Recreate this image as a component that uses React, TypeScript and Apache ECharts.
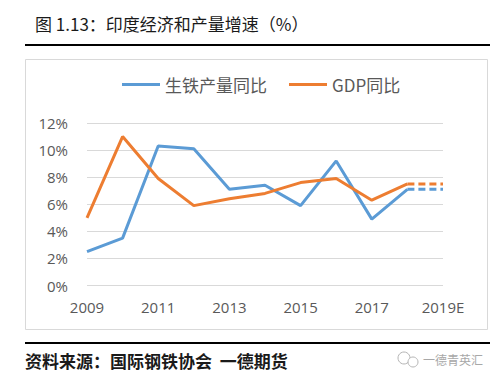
import React, { useEffect, useRef } from "react";
import * as echarts from "echarts";

const years = ["2009", "2010", "2011", "2012", "2013", "2014", "2015", "2016", "2017", "2018", "2019E"];
const pigIron = [2.5, 3.5, 10.3, 10.1, 7.1, 7.4, 5.9, 9.2, 4.9, 7.1, null];
const gdp = [5.0, 11.0, 7.9, 5.9, 6.4, 6.8, 7.6, 7.9, 6.3, 7.5, null];
const pigIronForecast = [null, null, null, null, null, null, null, null, null, 7.1, 7.1];
const gdpForecast = [null, null, null, null, null, null, null, null, null, 7.5, 7.5];
const seriesNames = ["生铁产量同比", "GDP同比"];

const BLUE = "#5B9BD5";
const ORANGE = "#ED7D31";
const CJK = "'Noto Sans CJK SC', sans-serif";
const LAT = "'Open Sans', 'Noto Sans CJK SC', sans-serif";

export default function App() {
  const ref = useRef<HTMLDivElement>(null);
  useEffect(() => {
    document.body.style.margin = "0";
    const chart = echarts.init(ref.current!, null, { renderer: "svg" });
    chart.setOption({
      animation: false,
      backgroundColor: "#ffffff",
      grid: { left: 87, right: 56, top: 123, bottom: 96.5, containLabel: false },
      legend: {
        data: seriesNames,
        left: 117,
        top: 71,
        icon: "rect",
        itemWidth: 38,
        itemHeight: 3,
        itemGap: 22,
        textStyle: { fontSize: 17, color: "#595959", fontFamily: CJK },
      },
      xAxis: {
        type: "category",
        data: years,
        boundaryGap: false,
        axisLine: { show: false },
        axisTick: { show: false },
        splitLine: { show: false },
        axisLabel: { interval: 1, color: "#595959", fontSize: 15, fontFamily: LAT, margin: 14 },
      },
      yAxis: {
        type: "value",
        min: 0,
        max: 12,
        interval: 2,
        axisLine: { show: false },
        axisTick: { show: false },
        splitLine: { lineStyle: { color: "#d9d9d9", width: 1 } },
        axisLabel: { formatter: "{value}%", color: "#595959", fontSize: 15, fontFamily: LAT, margin: 19 },
      },
      series: [
        {
          name: seriesNames[0],
          type: "line",
          data: pigIron,
          symbol: "none",
          lineStyle: { color: BLUE, width: 3 },
          itemStyle: { color: BLUE },
        },
        {
          name: seriesNames[1],
          type: "line",
          data: gdp,
          symbol: "none",
          lineStyle: { color: ORANGE, width: 3 },
          itemStyle: { color: ORANGE },
        },
        {
          name: "生铁产量同比预测",
          type: "line",
          data: pigIronForecast,
          symbol: "none",
          lineStyle: { color: BLUE, width: 3, type: [7, 4] },
          itemStyle: { color: BLUE },
        },
        {
          name: "GDP同比预测",
          type: "line",
          data: gdpForecast,
          symbol: "none",
          lineStyle: { color: ORANGE, width: 3, type: [7, 4] },
          itemStyle: { color: ORANGE },
        },
      ],
      graphic: [
        {
          type: "text",
          left: 35,
          top: 15,
          style: { text: "图 1.13：印度经济和产量增速（%）", fontSize: 17, fill: "#1a1a1a", fontFamily: CJK },
        },
        { type: "line", shape: { x1: 25, y1: 45, x2: 490, y2: 45 }, style: { stroke: "#000", lineWidth: 2 } },
        {
          type: "rect",
          shape: { x: 25.5, y: 59.5, width: 462, height: 270 },
          style: { fill: "none", stroke: "#d9d9d9", lineWidth: 1 },
          z: -1,
        },
        { type: "line", shape: { x1: 25, y1: 343, x2: 490, y2: 343 }, style: { stroke: "#000", lineWidth: 2 } },
        {
          type: "text",
          left: 25,
          top: 352,
          style: { text: "资料来源：国际钢铁协会  一德期货", fontSize: 17, fontWeight: "bold", fill: "#1a1a1a", fontFamily: CJK },
        },
        { type: "circle", shape: { cx: 404, cy: 358, r: 6 }, style: { fill: "none", stroke: "#b5b5b5", lineWidth: 1 } },
        { type: "circle", shape: { cx: 413, cy: 362, r: 5 }, style: { fill: "#fff", stroke: "#b5b5b5", lineWidth: 1 } },
        {
          type: "text",
          left: 423,
          top: 353,
          style: { text: "一德青英汇", fontSize: 12, fill: "#a8a8a8", fontFamily: CJK },
        },
      ],
    });
    return () => chart.dispose();
  }, []);
  return <div ref={ref} style={{ width: 499, height: 382 }} />;
}
